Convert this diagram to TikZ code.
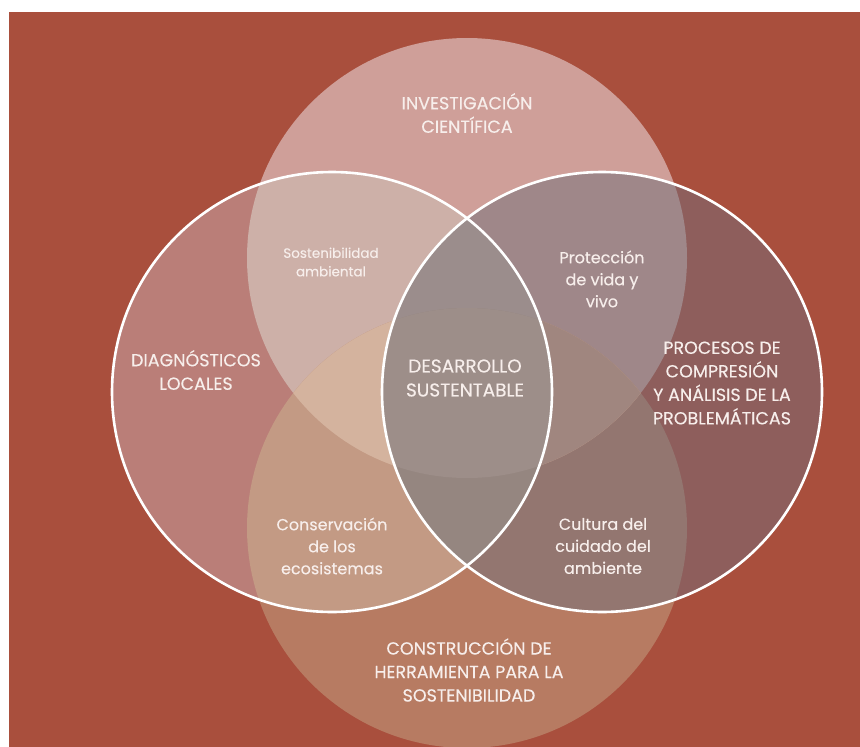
\documentclass[tikz,border=0pt]{standalone}
\usepackage{fontspec}
\setmainfont{Poppins}[FakeBold=0.35]
\definecolor{bgred}{HTML}{A94F3D}
\definecolor{cT}{HTML}{CF9F99}
\definecolor{cL}{HTML}{BA7E78}
\definecolor{cR}{HTML}{8E5E5C}
\definecolor{cB}{HTML}{B77B62}
\definecolor{cTL}{HTML}{CDB0A8}
\definecolor{cTR}{HTML}{9F8789}
\definecolor{cLB}{HTML}{C39A84}
\definecolor{cRB}{HTML}{937670}
\definecolor{cTB}{HTML}{C8A08C}
\definecolor{cLR}{HTML}{9A8B88}
\definecolor{cTLB}{HTML}{D4B39E}
\definecolor{cTRB}{HTML}{A0867F}
\definecolor{cTLR}{HTML}{9B8D8C}
\definecolor{cLRB}{HTML}{958680}
\definecolor{cAll}{HTML}{9D8E89}
\definecolor{txt}{HTML}{F7EEEB}
\newcommand\cirT{(467,258) circle[radius=220pt]}
\newcommand\cirB{(467,528) circle[radius=220pt]}
\newcommand\cirL{(332,392) circle[radius=220pt]}
\newcommand\cirR{(602,392) circle[radius=220pt]}
\newcommand\allbox{(0,0) rectangle (860,747)}
\tikzset{
  capl/.style={text=txt, align=center, font=\fontsize{17.5}{23.5}\selectfont},
  lowl/.style={text=txt, align=center, font=\fontsize{16}{22}\selectfont},
  smalll/.style={text=txt, align=center, font=\fontsize{13.5}{18.5}\selectfont},
  ring/.style={draw=white, line width=2.6pt}
}
\begin{document}
\begin{tikzpicture}[x=1pt,y=-1pt]
\useasboundingbox \allbox;
\fill[white] \allbox;
\fill[bgred] (9,12) rectangle (860,747);
\begin{scope}
\clip (9,12) rectangle (860,747);
% single circles
\fill[cT] \cirT;
\fill[cB] \cirB;
\fill[cL] \cirL;
\fill[cR] \cirR;
% pairs
\begin{scope}\clip \cirT; \fill[cTL] \cirL; \end{scope}
\begin{scope}\clip \cirT; \fill[cTR] \cirR; \end{scope}
\begin{scope}\clip \cirL; \fill[cLB] \cirB; \end{scope}
\begin{scope}\clip \cirR; \fill[cRB] \cirB; \end{scope}
\begin{scope}\clip \cirT; \fill[cTB] \cirB; \end{scope}
\begin{scope}\clip \cirL; \fill[cLR] \cirR; \end{scope}
% triples
\begin{scope}\clip \cirT; \clip \cirL; \fill[cTLB] \cirB; \end{scope}
\begin{scope}\clip \cirT; \clip \cirR; \fill[cTRB] \cirB; \end{scope}
\begin{scope}\clip \cirT; \clip \cirL; \fill[cTLR] \cirR; \end{scope}
\begin{scope}\clip \cirL; \clip \cirR; \fill[cLRB] \cirB; \end{scope}
% all four
\begin{scope}\clip \cirT; \clip \cirL; \clip \cirR; \fill[cAll] \cirB; \end{scope}
% outlines
\draw[ring] \cirL;
\draw[ring] \cirR;
\end{scope}
% labels
\node[capl] (inv) at (467,113) {INVESTIGACIÓN\\CIENTÍFICA};
\node[capl] (diag) at (196,370) {DIAGNÓSTICOS\\LOCALES};
\node[capl, font=\fontsize{18.5}{24}\selectfont] (des) at (465,378) {DESARROLLO\\SUSTENTABLE};
\node[capl] (proc) at (722,383) {PROCESOS DE\\COMPRESIÓN\\Y ANÁLISIS DE LA\\PROBLEMÁTICAS};
\node[capl] (cons) at (469,670) {CONSTRUCCIÓN DE\\HERRAMIENTA PARA LA\\SOSTENIBILIDAD};
\node[smalll] (sost) at (331,262) {Sostenibilidad\\ambiental};
\node[lowl] (prot) at (602,279) {Protección\\de vida y\\vivo};
\node[lowl] (conse) at (332,546) {Conservación\\de los\\ecosistemas};
\node[lowl] (cult) at (603,546) {Cultura del\\cuidado del\\ambiente};
\end{tikzpicture}
\end{document}
